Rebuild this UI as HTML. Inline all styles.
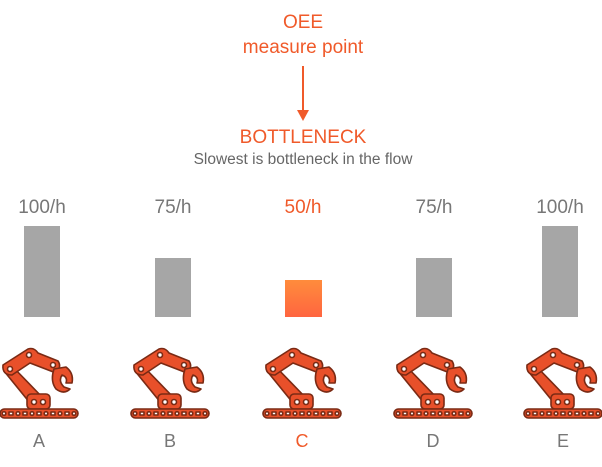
<!DOCTYPE html>
<html><head><style>
body{margin:0;width:602px;height:467px;background:#fff;font-family:"Liberation Sans",sans-serif;position:relative;overflow:hidden}
.t{position:absolute;text-align:center;white-space:nowrap}
</style></head><body>
<svg width="602" height="467" style="position:absolute;left:0;top:0">
<defs>
<linearGradient id="g" x1="0" y1="0" x2="0" y2="1"><stop offset="0" stop-color="#ff8c3c"/><stop offset="1" stop-color="#ff6540"/></linearGradient>
<g id="r" stroke="#7a2a14" stroke-width="1.6" fill="#e8502a" stroke-linejoin="round">
<path d="M4 38 L12 33 L44 66 L30 70 Z"/>
<path d="M3 32 L28 16 Q34 14 38 20 L58 28 Q62 34 56 40 L30 30 L12 42 Q2 42 3 32Z"/>
<path d="M54 36 L66 34 Q74 40 72 50 L66 50 Q68 44 62 42 Q58 48 64 54 L70 56 Q64 62 56 56 Q50 48 54 36Z"/>
<rect x="27" y="61" width="23" height="15" rx="4"/>
<rect x="0" y="76" width="78" height="9" rx="4.5"/>
<g fill="#fff"><circle cx="10" cy="36" r="2.5"/><circle cx="29" cy="22" r="2.5"/><circle cx="53" cy="32" r="2.5"/><circle cx="34" cy="69" r="2.5"/><circle cx="43" cy="69" r="2.5"/>
<circle cx="4" cy="80.5" r="1.8"/><circle cx="18" cy="80.5" r="1.8"/><circle cx="32" cy="80.5" r="1.8"/><circle cx="46" cy="80.5" r="1.8"/><circle cx="60" cy="80.5" r="1.8"/><circle cx="74" cy="80.5" r="1.8"/>
<rect x="9" y="79" width="4" height="3"/><rect x="23" y="79" width="4" height="3"/><rect x="37" y="79" width="4" height="3"/><rect x="51" y="79" width="4" height="3"/><rect x="65" y="79" width="4" height="3"/></g>
</g>
</defs>
<line x1="303" y1="66" x2="303" y2="112" stroke="#f05a2a" stroke-width="2"/>
<polygon points="297,110 309,110 303,121" fill="#f05a2a"/>
<rect x="24" y="226" width="36" height="91" fill="#a6a6a6"/>
<rect x="155" y="258" width="36" height="59" fill="#a6a6a6"/>
<rect x="285" y="280" width="37" height="37" fill="url(#g)"/>
<rect x="416" y="258" width="36" height="59" fill="#a6a6a6"/>
<rect x="542" y="226" width="36" height="91" fill="#a6a6a6"/>
<use href="#r" x="0" y="333"/>
<use href="#r" x="131" y="333"/>
<use href="#r" x="263" y="333"/>
<use href="#r" x="394" y="333"/>
<use href="#r" x="524" y="333"/>
</svg>
<div class="t" style="left:203px;width:200px;top:10px;font-size:19px;line-height:25px;color:#f05a2a">OEE<br>measure point</div>
<div class="t" style="left:203px;width:200px;top:127px;font-size:19px;color:#f05a2a">BOTTLENECK</div>
<div class="t" style="left:153px;width:300px;top:151px;font-size:15.5px;color:#666">Slowest is bottleneck in the flow</div>
<div class="t" style="left:0;width:84px;top:197px;font-size:19px;color:#777">100/h</div>
<div class="t" style="left:123px;width:100px;top:197px;font-size:19px;color:#777">75/h</div>
<div class="t" style="left:253px;width:100px;top:197px;font-size:19px;color:#f05a2a">50/h</div>
<div class="t" style="left:384px;width:100px;top:197px;font-size:19px;color:#777">75/h</div>
<div class="t" style="left:510px;width:100px;top:197px;font-size:19px;color:#777">100/h</div>
<div class="t" style="left:19px;width:40px;top:431px;font-size:18px;color:#777">A</div>
<div class="t" style="left:150px;width:40px;top:431px;font-size:18px;color:#777">B</div>
<div class="t" style="left:282px;width:40px;top:431px;font-size:18px;color:#f05a2a">C</div>
<div class="t" style="left:413px;width:40px;top:431px;font-size:18px;color:#777">D</div>
<div class="t" style="left:543px;width:40px;top:431px;font-size:18px;color:#777">E</div>
</body></html>
